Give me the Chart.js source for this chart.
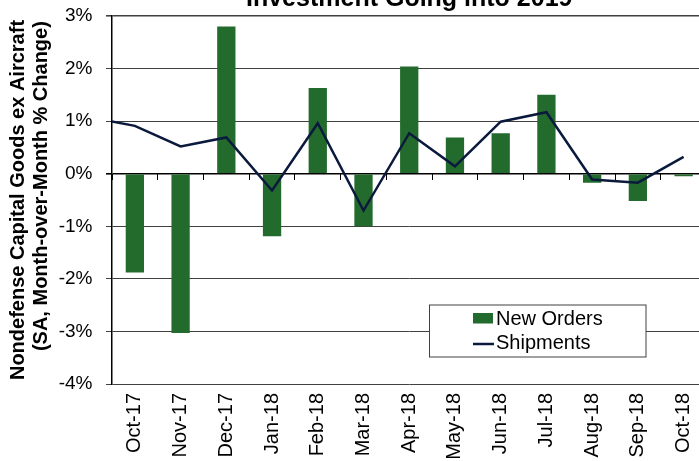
<!DOCTYPE html>
<html><head><meta charset="utf-8">
<script src="https://cdn.jsdelivr.net/npm/chart.js@4.4.0/dist/chart.umd.min.js"></script>
<style>
html,body{margin:0;padding:0;overflow:hidden;background:#fff;width:699px;height:461px;}
#wrap{position:absolute;left:0;top:-20px;width:717px;height:481px;}
</style></head><body>
<div id="wrap"><canvas id="c" width="717" height="481"></canvas></div>
<script>
// Sep-17 is just left of the visible range; only its line segment shows at the axis.
const categories = ['Sep-17','Oct-17','Nov-17','Dec-17','Jan-18','Feb-18','Mar-18','Apr-18','May-18','Jun-18','Jul-18','Aug-18','Sep-18','Oct-18'];
const newOrders = [null, -1.88, -3.03, 2.80, -1.19, 1.63, -1.00, 2.04, 0.69, 0.77, 1.50, -0.17, -0.52, -0.05];
const shipments = [1.08, 0.91, 0.52, 0.69, -0.32, 0.96, -0.70, 0.77, 0.14, 0.99, 1.17, -0.11, -0.17, 0.32];
const yTicks = [-4, -3, -2, -1, 0, 1, 2, 3];
const firstVisible = 'Oct-17';
const titleText = 'Investment Going into 2019';
const yTitle = ['Nondefense Capital Goods ex Aircraft', '     (SA, Month-over-Month % Change)'];

const FONT = '"Liberation Sans", Arial, sans-serif';

const legendPlugin = {
  id: 'boxLegend',
  afterDraw(chart) {
    const ctx = chart.ctx;
    const ds = chart.data.datasets;
    const bars = ds.find(d => d.type === 'bar');
    const line = ds.find(d => d.type === 'line');
    const bx = 429.5, by = 325, bw = 216.5, bh = 52;
    ctx.save();
    ctx.fillStyle = '#ffffff';
    ctx.fillRect(bx, by, bw, bh);
    ctx.strokeStyle = '#404040';
    ctx.lineWidth = 1;
    ctx.strokeRect(bx, by, bw, bh);
    ctx.font = '20px ' + FONT;
    ctx.textBaseline = 'alphabetic';
    ctx.textAlign = 'left';
    ctx.fillStyle = bars.backgroundColor;
    ctx.fillRect(473, 333, 20, 10.5);
    ctx.fillStyle = '#000';
    ctx.fillText(bars.label, 496, 345);
    ctx.strokeStyle = line.borderColor;
    ctx.lineWidth = 2.5;
    ctx.beginPath();
    ctx.moveTo(473, 364);
    ctx.lineTo(494, 364);
    ctx.stroke();
    ctx.fillText(line.label, 496, 369);
    ctx.restore();
  }
};

new Chart(document.getElementById('c'), {
  type: 'bar',
  data: {
    labels: categories,
    datasets: [
      {
        type: 'line',
        label: 'Shipments',
        data: shipments,
        borderColor: '#0b1a3c',
        borderWidth: 2.5,
        pointRadius: 0,
        tension: 0,
        fill: false,
        order: 0
      },
      {
        type: 'bar',
        label: 'New Orders',
        data: newOrders,
        backgroundColor: '#236b2d',
        barPercentage: 0.4,
        categoryPercentage: 1.0,
        order: 1
      }
    ]
  },
  options: {
    responsive: false,
    animation: false,
    devicePixelRatio: 1,
    layout: { padding: 0 },
    plugins: {
      legend: { display: false },
      tooltip: { enabled: false },
      title: {
        display: true,
        text: titleText,
        fullSize: false,
        color: '#000',
        font: { family: FONT, size: 25, weight: 'bold', lineHeight: 1.2 },
        padding: { top: 4.6, bottom: 1.4 }
      }
    },
    scales: {
      x: {
        type: 'category',
        min: firstVisible,
        offset: true,
        grid: { display: false, drawTicks: false, tickLength: 0 },
        border: { display: false },
        ticks: {
          autoSkip: false, minRotation: 90, maxRotation: 90,
          color: '#000', padding: 9,
          font: { family: FONT, size: 20 }
        },
        afterFit: s => { s.height = 77; }
      },
      x2: {
        type: 'category',
        axis: 'x',
        position: { y: 0 },
        min: firstVisible,
        offset: true,
        grid: { offset: true, drawOnChartArea: false, drawTicks: true, tickLength: 6, color: '#000', lineWidth: 1 },
        border: { display: false },
        ticks: { display: false }
      },
      y: {
        min: yTicks[0],
        max: yTicks[yTicks.length - 1],
        ticks: {
          stepSize: 1,
          color: '#000',
          padding: 13.5,
          font: { family: FONT, size: 19 },
          callback: v => v + '%'
        },
        grid: {
          color: c => (c.tick && c.tick.value === 0) ? '#000' : '#404040',
          lineWidth: c => (c.tick && (c.tick.value === 0 || c.tick.value === 3)) ? 1.6 : 1,
          tickLength: 6,
          drawTicks: true
        },
        border: { color: '#000', width: 1.5 },
        title: {
          display: true,
          text: yTitle,
          color: '#000',
          font: { family: FONT, size: 20, weight: 'bold', lineHeight: 1.15 },
          padding: { top: 6.5, bottom: 0 }
        },
        afterFit: s => { s.width = 112; }
      }
    }
  },
  plugins: [legendPlugin]
});
</script>
</body></html>
